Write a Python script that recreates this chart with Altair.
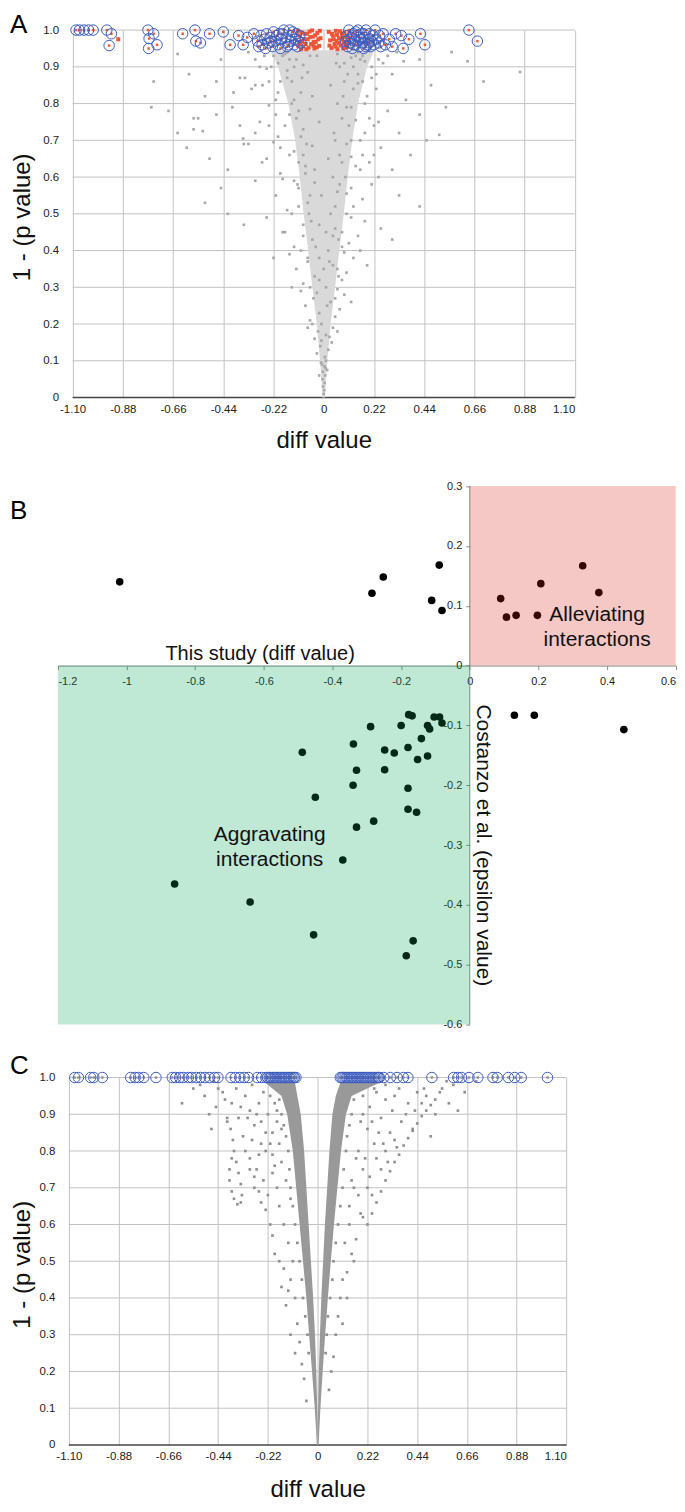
import altair as alt
import pandas as pd

FONT = "Liberation Sans, Arial, Helvetica, sans-serif"
GRID = "#c2c2c2"
BLUE = "#3d5cbf"
RED = "#ef5538"

# ---------------- Panel A ----------------
A_XTICKS = [-1.10, -0.88, -0.66, -0.44, -0.22, 0, 0.22, 0.44, 0.66, 0.88, 1.10]
A_YTICKS = [0, 0.1, 0.2, 0.3, 0.4, 0.5, 0.6, 0.7, 0.8, 0.9, 1.0]
A_GRID_Y = [0.1, 0.2, 0.3, 0.4, 0.5, 0.6, 0.7, 0.8, 0.9, 1.0]

A_CORE_Y = [0.0, 0.05, 0.1, 0.2, 0.3, 0.4, 0.5, 0.6, 0.7, 0.8, 0.9, 0.945]
A_CORE_LO = [-0.006, -0.01, -0.016, -0.03, -0.05, -0.068, -0.088, -0.105, -0.125, -0.155, -0.2, -0.23]
A_CORE_HI = [0.006, 0.01, 0.016, 0.03, 0.05, 0.068, 0.088, 0.105, 0.125, 0.15, 0.19, 0.22]

A_GRAY = [
    (0, 0.01), (0.002, 0.02), (-0.003, 0.03), (0.004, 0.04), (-0.005, 0.05), (0.006, 0.06), (-0.004, 0.07),
    (0.008, 0.08), (-0.008, 0.09), (0.01, 0.1), (-0.012, 0.095), (0.003, 0.085), (-0.02, 0.06), (0.015, 0.075),
    (-0.03, 0.12), (0.02, 0.13), (-0.015, 0.14), (0.035, 0.15), (-0.04, 0.16), (0.01, 0.17), (-0.025, 0.18),
    (0.04, 0.19), (-0.05, 0.2), (0.005, 0.11), (0.025, 0.165), (-0.01, 0.155), (0.06, 0.18), (-0.07, 0.19),
    (-0.06, 0.21), (0.05, 0.22), (-0.02, 0.23), (0.07, 0.24), (-0.08, 0.25), (0.03, 0.26), (-0.045, 0.27),
    (0.09, 0.28), (-0.1, 0.29), (0.01, 0.3), (0.06, 0.295), (-0.03, 0.285), (0.12, 0.26), (-0.14, 0.3),
    (-0.09, 0.31), (0.08, 0.32), (-0.04, 0.33), (0.1, 0.34), (-0.12, 0.35), (0.04, 0.36), (-0.07, 0.37),
    (0.13, 0.38), (-0.15, 0.39), (0.02, 0.4), (0.06, 0.35), (-0.02, 0.38), (0.19, 0.36), (-0.22, 0.38),
    (0.09, 0.395), (-0.1, 0.4), (-0.13, 0.41), (0.11, 0.42), (-0.05, 0.43), (0.15, 0.44), (-0.18, 0.45),
    (0.05, 0.46), (-0.09, 0.47), (0.18, 0.48), (-0.25, 0.49), (0.03, 0.5), (0.08, 0.45), (-0.02, 0.47),
    (0.25, 0.46), (-0.35, 0.47), (-0.42, 0.5), (0.12, 0.49), (-0.14, 0.5), (0.3, 0.43), (-0.16, 0.51),
    (0.13, 0.52), (-0.07, 0.53), (0.17, 0.54), (-0.21, 0.55), (0.06, 0.56), (-0.11, 0.57), (0.21, 0.58),
    (-0.3, 0.59), (0.04, 0.6), (0.1, 0.555), (-0.04, 0.585), (0.33, 0.55), (-0.45, 0.57), (-0.52, 0.53),
    (0.24, 0.6), (-0.18, 0.595), (0.42, 0.52), (-0.19, 0.61), (0.16, 0.62), (-0.08, 0.63), (0.2, 0.64),
    (-0.25, 0.65), (0.07, 0.66), (-0.13, 0.67), (0.25, 0.68), (-0.35, 0.69), (0.05, 0.7), (0.12, 0.655),
    (-0.05, 0.685), (0.38, 0.66), (-0.5, 0.65), (-0.6, 0.68), (0.45, 0.7), (-0.22, 0.695), (0.3, 0.62),
    (-0.42, 0.62), (-0.2, 0.71), (0.18, 0.72), (-0.09, 0.73), (0.22, 0.74), (-0.28, 0.75), (0.08, 0.76),
    (-0.15, 0.77), (0.28, 0.78), (-0.4, 0.79), (0.06, 0.8), (0.14, 0.755), (-0.06, 0.785), (0.42, 0.77),
    (-0.55, 0.76), (-0.68, 0.78), (0.506, 0.715), (-0.24, 0.795), (0.33, 0.72), (-0.47, 0.77), (0.535, 0.79),
    (-0.21, 0.81), (0.19, 0.82), (-0.1, 0.83), (0.23, 0.84), (-0.3, 0.85), (0.09, 0.86), (-0.16, 0.87),
    (0.3, 0.88), (-0.47, 0.86), (0.07, 0.9), (0.15, 0.855), (-0.07, 0.885), (0.47, 0.85), (-0.59, 0.88),
    (-0.745, 0.86), (0.7, 0.86), (-0.25, 0.895), (0.36, 0.81), (-0.52, 0.82), (0.86, 0.886), (-0.755, 0.79),
    (-0.2, 0.91), (0.18, 0.915), (-0.12, 0.92), (0.12, 0.925), (-0.06, 0.93), (0.06, 0.935), (-0.16, 0.94),
    (0.2, 0.945), (-0.09, 0.905), (0.09, 0.91), (-0.22, 0.93), (0.15, 0.94), (-0.3, 0.92), (0.28, 0.93),
    (-0.395, 0.83), (0.35, 0.915), (-0.45, 0.92), (0.42, 0.92), (-0.64, 0.935), (0.56, 0.94), (0.63, 0.915),
    (-0.367, 0.87), (-0.345, 0.87), (-0.316, 0.84), (-0.268, 0.85), (-0.64, 0.72), (-0.57, 0.73),
    (-0.53, 0.725), (-0.367, 0.74), (-0.353, 0.705), (-0.33, 0.69), (-0.3, 0.72), (-0.57, 0.76),
    (-0.17, 0.935), (-0.13, 0.9), (0.13, 0.9), (0.17, 0.93), (-0.19, 0.86), (0.21, 0.87), (-0.11, 0.78),
    (0.1, 0.79), (-0.24, 0.74), (0.24, 0.75), (-0.27, 0.64), (0.22, 0.66), (-0.17, 0.45), (0.16, 0.4),
    (-0.01, 0.2), (0.015, 0.25), (-0.02, 0.32), (0.025, 0.37), (-0.035, 0.41), (0.04, 0.44), (-0.055, 0.48),
    (0.05, 0.52), (-0.06, 0.55), (0.07, 0.58), (-0.08, 0.61), (0.08, 0.64), (-0.09, 0.66), (0.1, 0.69),
    (-0.1, 0.71), (0.11, 0.74), (-0.12, 0.76), (0.12, 0.79), (-0.13, 0.81), (0.13, 0.84), (-0.14, 0.86),
    (0.15, 0.88), (-0.16, 0.89), (0.16, 0.92), (-0.18, 0.93), (0.0, 0.35), (0.01, 0.45), (-0.01, 0.55),
    (0.02, 0.65), (-0.02, 0.75), (0.03, 0.85), (-0.03, 0.93), (-0.04, 0.62), (0.045, 0.72), (-0.05, 0.82),
    (0.055, 0.91), (-0.065, 0.5), (0.065, 0.43), (-0.075, 0.69), (0.085, 0.82), (-0.095, 0.87), (0.095, 0.6),
    (-0.11, 0.64), (0.105, 0.88), (-0.115, 0.58), (0.12, 0.7), (-0.14, 0.8), (0.14, 0.93), (-0.15, 0.92),
    (0.17, 0.86),
    (-0.23, 0.9), (-0.26, 0.93), (0.21, 0.9), (0.24, 0.92), (-0.2, 0.83), (0.18, 0.8), (-0.17, 0.74),
    (0.16, 0.7), (-0.15, 0.66), (0.14, 0.63), (-0.13, 0.59), (0.12, 0.57), (-0.11, 0.52), (0.1, 0.5),
    (-0.09, 0.44), (0.08, 0.41), (-0.07, 0.38), (0.065, 0.33), (-0.06, 0.3), (0.05, 0.27), (-0.21, 0.77),
    (0.2, 0.76), (-0.24, 0.86), (0.23, 0.88), (-0.28, 0.9), (0.26, 0.91), (-0.33, 0.94), (0.32, 0.94),
    (-0.19, 0.68), (0.17, 0.66),
]

A_RED = [
    (-0.112, 0.998), (-0.105, 0.985), (-0.098, 0.97), (-0.09, 0.955), (-0.083, 0.99), (-0.076, 0.948),
    (-0.07, 0.975), (-0.062, 0.996), (-0.055, 0.962), (-0.048, 0.982), (-0.041, 0.95), (-0.035, 0.968),
    (-0.028, 0.992), (-0.02, 0.957), (-0.014, 0.978), (-0.108, 0.962), (-0.094, 0.993), (-0.087, 0.976),
    (-0.079, 0.962), (-0.066, 0.952), (-0.059, 0.981), (-0.051, 0.999), (-0.044, 0.968), (-0.037, 0.986),
    (-0.03, 0.953), (-0.024, 0.975), (-0.017, 0.998), (-0.1, 0.948), (-0.073, 0.99), (-0.045, 0.958),
    (0.022, 0.995), (0.028, 0.972), (0.034, 0.951), (0.04, 0.985), (0.047, 0.962), (0.053, 0.998),
    (0.06, 0.948), (0.066, 0.978), (0.073, 0.958), (0.08, 0.99), (0.087, 0.966), (0.094, 0.952),
    (0.1, 0.982), (0.107, 0.97), (0.113, 0.996), (0.025, 0.958), (0.036, 0.99), (0.044, 0.975),
    (0.051, 0.955), (0.058, 0.987), (0.064, 0.965), (0.071, 0.997), (0.078, 0.975), (0.085, 0.95),
    (0.091, 0.993), (0.097, 0.962), (0.104, 0.955), (0.11, 0.978), (0.056, 0.97), (0.083, 0.98),
    (-0.9, 0.975),
]

A_CIRC = [
    (-1.085, 1.0), (-1.07, 1.0), (-1.05, 1.0), (-1.03, 1.0), (-1.01, 1.0), (-0.95, 1.0), (-0.93, 0.99),
    (-0.94, 0.958), (-0.77, 1.0), (-0.745, 0.99), (-0.765, 0.977), (-0.73, 0.96), (-0.767, 0.95),
    (-0.618, 0.99), (-0.564, 1.0), (-0.56, 0.97), (-0.54, 0.965), (-0.50, 0.99), (-0.44, 0.995),
    (-0.41, 0.96), (-0.373, 0.985), (-0.353, 0.96), (-0.335, 0.98), (-0.306, 0.99),
    (-0.29, 0.97), (-0.285, 0.955), (-0.275, 0.985), (-0.27, 0.96), (-0.26, 0.975), (-0.255, 0.95),
    (-0.25, 0.99), (-0.24, 0.965), (-0.235, 0.98), (-0.225, 0.955), (-0.22, 0.995), (-0.21, 0.97),
    (-0.205, 0.985), (-0.2, 0.96), (-0.19, 0.95), (-0.185, 0.975), (-0.18, 0.99), (-0.17, 0.965),
    (-0.165, 0.98), (-0.16, 0.955), (-0.15, 1.0), (-0.145, 0.97), (-0.14, 0.985), (-0.13, 0.96),
    (-0.125, 0.975), (-0.12, 0.99), (-0.115, 0.955), (-0.11, 0.97), (-0.105, 0.985), (-0.1, 0.965),
    (-0.175, 1.0), (-0.23, 0.97), (-0.195, 0.99), (-0.135, 0.995), (-0.155, 0.96),
    (0.095, 0.97), (0.1, 0.985), (0.105, 0.955), (0.11, 1.0), (0.115, 0.965), (0.12, 0.98),
    (0.125, 0.95), (0.13, 0.99), (0.135, 0.97), (0.14, 0.96), (0.145, 0.985), (0.15, 1.0),
    (0.155, 0.955), (0.16, 0.975), (0.165, 0.99), (0.17, 0.965), (0.175, 0.95), (0.18, 0.98),
    (0.185, 1.0), (0.19, 0.96), (0.195, 0.975), (0.2, 0.99), (0.205, 0.955), (0.21, 0.97),
    (0.215, 0.985), (0.22, 0.96), (0.225, 1.0), (0.23, 0.975), (0.24, 0.965), (0.245, 0.985),
    (0.25, 0.955), (0.13, 0.96), (0.155, 0.98), (0.175, 0.99), (0.11, 0.975), (0.2, 0.965),
    (0.14, 0.995), (0.185, 0.955), (0.26, 0.99), (0.27, 0.96), (0.3, 0.955),
    (0.287, 0.975), (0.315, 0.99), (0.34, 0.985), (0.348, 0.95), (0.373, 0.975), (0.424, 0.99),
    (0.443, 0.96), (0.636, 1.0), (0.673, 0.97),
]

# ---------------- Panel B ----------------
B_XTICKS = [-1.2, -1.0, -0.8, -0.6, -0.4, -0.2, 0, 0.2, 0.4, 0.6]
B_YTICKS = [0.3, 0.2, 0.1, 0, -0.1, -0.2, -0.3, -0.4, -0.5, -0.6]
B_YAXIS_LINE = dict(x=[0.0], y=[-0.6], y2=[0.3])
B_X = [-1.02, -0.252, -0.285, -0.089, -0.111, -0.081,
       0.090, 0.107, 0.135, 0.197, 0.207, 0.329, 0.376,
       0.130, 0.188, 0.449,
       -0.178, -0.168, -0.104, -0.088, -0.081, -0.289, -0.200, -0.123, -0.117, -0.141, -0.339, -0.488,
       -0.248, -0.220, -0.180, -0.123, -0.152, -0.248, -0.18, -0.155, -0.18, -0.33, -0.34, -0.45,
       -0.28, -0.33, -0.37, -0.86, -0.64, -0.455, -0.185, -0.165]
B_Y = [0.14, 0.148, 0.121, 0.168, 0.109, 0.092,
       0.112, 0.081, 0.084, 0.084, 0.137, 0.167, 0.122,
       -0.083, -0.083, -0.107,
       -0.082, -0.084, -0.086, -0.086, -0.096, -0.102, -0.100, -0.100, -0.106, -0.122, -0.131, -0.145,
       -0.141, -0.146, -0.137, -0.151, -0.157, -0.174, -0.205, -0.245, -0.24, -0.175, -0.2, -0.22,
       -0.26, -0.27, -0.325, -0.365, -0.395, -0.45, -0.485, -0.46]
B_PINK = dict(x=[0.0], x2=[0.6], y=[0.0], y2=[0.3])
B_GREEN = dict(x=[-1.2], x2=[0.0], y=[-0.6], y2=[0.0])
B_LABELS = ["Alleviating", "interactions", "Aggravating", "interactions"]
B_LABEL_X = [0.371, 0.371, -0.583, -0.583]
B_LABEL_Y = [0.085, 0.043, -0.283, -0.325]

# ---------------- Panel C ----------------
C_XTICKS = A_XTICKS
C_YTICKS = A_YTICKS
C_GRID_Y = A_GRID_Y
C_BAND_Y = [0.0, 0.05, 0.1, 0.2, 0.3, 0.4, 0.5, 0.6, 0.7, 0.8, 0.9, 0.95, 0.985]
C_LBAND_OUT = [-0.004, -0.008, -0.013, -0.025, -0.038, -0.05, -0.065, -0.08, -0.095, -0.11, -0.135, -0.16, -0.23]
C_LBAND_IN = [0.0, 0.0, -0.002, -0.006, -0.012, -0.02, -0.03, -0.04, -0.05, -0.06, -0.075, -0.09, -0.1]
C_RBAND_IN = [0.0, 0.0, 0.002, 0.005, 0.01, 0.016, 0.024, 0.032, 0.042, 0.052, 0.065, 0.08, 0.1]
C_RBAND_OUT = [0.004, 0.008, 0.012, 0.022, 0.033, 0.045, 0.058, 0.072, 0.087, 0.103, 0.125, 0.15, 0.27]

C_GRAY = [
    (-0.55, 0.97), (-0.5, 0.95), (-0.45, 0.92), (-0.42, 0.96), (-0.38, 0.93), (-0.35, 0.89), (-0.32, 0.95),
    (-0.3, 0.91), (-0.28, 0.87), (-0.26, 0.93), (-0.24, 0.96), (-0.22, 0.9), (-0.2, 0.85), (-0.19, 0.93),
    (-0.25, 0.82), (-0.33, 0.84), (-0.4, 0.88), (-0.47, 0.86), (-0.36, 0.97), (-0.29, 0.98), (-0.23, 0.8),
    (-0.18, 0.88), (-0.21, 0.95), (-0.6, 0.93),
    (-0.3, 0.78), (-0.27, 0.75), (-0.24, 0.72), (-0.22, 0.68), (-0.2, 0.74), (-0.18, 0.7), (-0.17, 0.65),
    (-0.16, 0.77), (-0.15, 0.6), (-0.14, 0.72), (-0.13, 0.55), (-0.21, 0.6), (-0.25, 0.66), (-0.19, 0.52),
    (-0.12, 0.67), (-0.28, 0.7),
    (-0.38, 0.78), (-0.39, 0.75), (-0.39, 0.72), (-0.38, 0.69), (-0.37, 0.67), (-0.355, 0.655), (-0.34, 0.66),
    (-0.335, 0.68), (-0.34, 0.71), (-0.35, 0.74), (-0.36, 0.77), (-0.37, 0.8), (-0.375, 0.83), (-0.385, 0.86),
    (-0.4, 0.89),
    (-0.12, 0.45), (-0.1, 0.4), (-0.15, 0.48), (-0.09, 0.33), (-0.11, 0.5), (-0.08, 0.28), (-0.07, 0.22),
    (-0.13, 0.42), (-0.06, 0.18), (-0.05, 0.12),
    (-0.44, 0.97), (-0.41, 0.94), (-0.34, 0.92), (-0.31, 0.89), (-0.27, 0.9), (-0.25, 0.88), (-0.23, 0.85),
    (-0.21, 0.82), (-0.2, 0.79), (-0.19, 0.76), (-0.17, 0.82), (-0.16, 0.86), (-0.18, 0.91), (-0.26, 0.79),
    (-0.29, 0.83), (-0.32, 0.8), (-0.3, 0.75), (-0.28, 0.73), (-0.26, 0.69), (-0.23, 0.64), (-0.2, 0.57),
    (-0.17, 0.5), (-0.14, 0.38), (-0.16, 0.43), (-0.12, 0.3), (-0.1, 0.25), (-0.46, 0.99), (-0.52, 0.98),
    (-0.48, 0.9),
    (-0.1, 0.6), (-0.11, 0.65), (-0.12, 0.7), (-0.125, 0.75), (-0.13, 0.8), (-0.14, 0.84), (-0.15, 0.87),
    (-0.16, 0.9), (-0.17, 0.94), (-0.09, 0.55), (-0.08, 0.5), (-0.07, 0.45), (-0.065, 0.4), (-0.055, 0.35),
    (-0.045, 0.3), (-0.04, 0.25),
    (0.2, 0.95), (0.23, 0.92), (0.26, 0.96), (0.28, 0.89), (0.3, 0.94), (0.33, 0.91), (0.36, 0.97),
    (0.4, 0.93), (0.44, 0.96), (0.48, 0.95), (0.52, 0.9), (0.55, 0.97), (0.6, 0.98), (0.65, 0.96),
    (0.7, 0.99), (0.22, 0.86), (0.25, 0.82), (0.19, 0.88), (0.32, 0.85), (0.42, 0.86), (0.5, 0.84),
    (0.58, 0.93), (0.62, 0.91),
    (0.22, 0.6), (0.24, 0.63), (0.26, 0.66), (0.28, 0.69), (0.3, 0.72), (0.32, 0.745), (0.34, 0.77),
    (0.36, 0.79), (0.38, 0.815), (0.4, 0.835), (0.42, 0.855), (0.44, 0.875), (0.46, 0.895), (0.48, 0.91),
    (0.5, 0.925), (0.52, 0.94),
    (0.15, 0.72), (0.18, 0.68), (0.2, 0.75), (0.14, 0.6), (0.17, 0.78), (0.12, 0.55), (0.22, 0.7),
    (0.16, 0.5), (0.11, 0.45), (0.1, 0.4), (0.13, 0.47), (0.09, 0.35), (0.08, 0.3), (0.07, 0.24),
    (0.06, 0.2), (0.05, 0.15), (0.26, 0.78), (0.29, 0.82), (0.19, 0.63),
    (0.2, 0.9), (0.24, 0.88), (0.27, 0.85), (0.3, 0.8), (0.34, 0.83), (0.37, 0.88), (0.39, 0.9),
    (0.43, 0.91), (0.46, 0.93), (0.34, 0.95), (0.3, 0.98), (0.25, 0.97), (0.18, 0.8), (0.21, 0.78),
    (0.23, 0.73), (0.24, 0.68), (0.2, 0.62), (0.17, 0.56), (0.15, 0.52), (0.13, 0.4), (0.11, 0.33),
    (0.14, 0.65), (0.16, 0.7), (0.28, 0.75), (0.31, 0.77), (0.35, 0.81), (0.54, 0.96), (0.57, 0.99),
    (0.47, 0.97),
    (0.09, 0.6), (0.1, 0.65), (0.11, 0.7), (0.115, 0.75), (0.125, 0.8), (0.13, 0.84), (0.14, 0.87),
    (0.15, 0.9), (0.16, 0.94), (0.08, 0.55), (0.07, 0.5), (0.065, 0.45), (0.055, 0.4), (0.045, 0.35),
    (0.04, 0.3), (0.035, 0.25),
]

C_CIRC_X = [-1.074, -1.058, -1.004, -0.99, -0.952, -0.827, -0.807, -0.792, -0.769, -0.715, -0.643, -0.628,
            -0.61, -0.595, -0.572, -0.557, -0.537, -0.518, -0.499, -0.479, -0.456, -0.441, -0.383, -0.364,
            -0.344, -0.325, -0.306, -0.267, -0.248, -0.229, -0.221, -0.214, -0.208, -0.2, -0.193, -0.187,
            -0.18, -0.172, -0.166, -0.159, -0.151, -0.145, -0.138, -0.13, -0.124, -0.117, -0.109, -0.103,
            -0.096, 0.1, 0.107, 0.113, 0.121, 0.128, 0.134, 0.141, 0.149, 0.155, 0.162, 0.17, 0.176, 0.183,
            0.19, 0.197, 0.204, 0.211, 0.218, 0.225, 0.232, 0.24, 0.247, 0.254, 0.262, 0.268, 0.273, 0.292,
            0.321, 0.351, 0.379, 0.399, 0.505, 0.601, 0.62, 0.636, 0.669, 0.708, 0.775, 0.794, 0.843, 0.871,
            0.9, 1.016]
C_CIRC_Y = 1.0

# ---------------- layout constants (pixels) ----------------
LEFT = 58.0                       # common left edge of the three plot groups (panel B's x = -1.2)
A_LEFT, A_RIGHT = 72.7, 575.7     # panel A plot frame
C_LEFT, C_RIGHT = 69.0, 567.3     # panel C plot frame
AH = CH = 368.0
B_PX_PER_UNIT_Y = 539.3 / 0.9
B_EXTRA_TOP = 35.7                # empty band above B's 0.3 so that rows can share one spacing
B_YTOP = 0.3 + B_EXTRA_TOP / B_PX_PER_UNIT_Y
BW, BH = 618.7, 539.3 + B_EXTRA_TOP
ROW_GAP = 53.0
LETTER_X = 10.0                   # page x of the panel letters
YTITLE_X = 23.0                   # page x of the rotated y titles

# ---------------- helpers ----------------
def pts(pairs):
    return pd.DataFrame(pairs, columns=["x", "y"])

SIGNED2 = "datum.value == 0 ? '0' : (datum.value < 0 ? '-' : '') + format(abs(datum.value), '.2f')"
ONEDEC = "datum.value == 0 ? '0' : format(datum.value, '.1f')"
SIGNEDG = "(datum.value < 0 ? '-' : '') + format(abs(datum.value), '~g')"


def anchor(x, y):
    # invisible 1px rule that only pins the drawing's outer edge
    return alt.Chart(pd.DataFrame({"v": [0]})).mark_rule(opacity=0).encode(
        x=alt.value(x), x2=alt.value(x + 1), y=alt.value(y))


def volcano_panel(ch, left, right, xticks, yticks, grid_y, xtitle_y, letter_y, layers_fn, extra=()):
    shift = left - LEFT
    w = right - LEFT
    ppu = (right - left) / 2.2
    xmin = -1.1 - shift / ppu
    ax = alt.X("x:Q", scale=alt.Scale(domain=[xmin, 1.1], nice=False, zero=False),
               axis=alt.Axis(values=xticks, labelExpr=SIGNED2, grid=True, gridColor=GRID, gridWidth=1,
                             domain=False, ticks=False,
                             labelFont=FONT, labelFontSize=11.5, labelColor="#222222", labelPadding=6,
                             title="diff value", titleFont=FONT, titleFontSize=24, titleFontWeight="normal",
                             titleColor="#111111", titleX=(left + right) / 2 - LEFT, titleY=xtitle_y,
                             titleAlign="center", titleBaseline="middle"))
    ay = alt.Y("y:Q", scale=alt.Scale(domain=[0, 1], nice=False, zero=False),
               axis=alt.Axis(values=yticks, labelExpr=ONEDEC, grid=False, offset=-shift,
                             domain=False, ticks=False, labelFont=FONT, labelFontSize=11.5,
                             labelColor="#222222", labelPadding=14,
                             title="1 - (p value)", titleFont=FONT, titleFontSize=24, titleFontWeight="normal",
                             titleColor="#111111", titleX=YTITLE_X - left, titleY=187, titleAngle=-90,
                             titleAlign="center", titleBaseline="middle"))
    hgrid = alt.Chart(pd.DataFrame({"y": grid_y, "x": [-1.1] * len(grid_y), "x2": [1.1] * len(grid_y)})).mark_rule(
        color=GRID, strokeWidth=1).encode(x=ax, x2="x2:Q", y=ay)
    base = alt.Chart(pd.DataFrame({"y": [0.0], "x": [-1.1], "x2": [1.1]})).mark_rule(
        color="#444444", strokeWidth=1.6).encode(x=ax, x2="x2:Q", y=ay)
    let = alt.Chart(pd.DataFrame({"t": [ch]})).mark_text(
        align="left", baseline="top", fontSize=26, font=FONT, color="black"
    ).encode(x=alt.value(LETTER_X - LEFT), y=alt.value(letter_y), text="t:N")
    return alt.layer(hgrid, base, *layers_fn(ax, ay), let, *extra).properties(width=w, height=AH)


def a_layers(ax, ay):
    core = alt.Chart(pd.DataFrame({"y": A_CORE_Y, "x": A_CORE_LO, "x2": A_CORE_HI})).mark_area(
        orient="horizontal", color="#d9d9d9").encode(x=ax, x2="x2:Q", y=ay)
    gray = alt.Chart(pts(A_GRAY)).mark_square(size=7, color="#a8a8a8", opacity=1).encode(x=ax, y=ay)
    red = alt.Chart(pts(A_RED)).mark_square(size=16, color=RED, opacity=1).encode(x=ax, y=ay)
    dot = alt.Chart(pts(A_CIRC)).mark_square(size=6, color=RED, opacity=1).encode(x=ax, y=ay)
    circ = alt.Chart(pts(A_CIRC)).mark_point(shape="circle", filled=False, size=110, strokeWidth=1,
                                             color=BLUE, opacity=1).encode(x=ax, y=ay)
    return [core, gray, red, dot, circ]


def c_layers(ax, ay):
    lband = alt.Chart(pd.DataFrame({"y": C_BAND_Y, "x": C_LBAND_OUT, "x2": C_LBAND_IN})).mark_area(
        orient="horizontal", color="#999999").encode(x=ax, x2="x2:Q", y=ay)
    rband = alt.Chart(pd.DataFrame({"y": C_BAND_Y, "x": C_RBAND_IN, "x2": C_RBAND_OUT})).mark_area(
        orient="horizontal", color="#999999").encode(x=ax, x2="x2:Q", y=ay)
    gray = alt.Chart(pts(C_GRAY)).mark_square(size=7, color="#8f8f8f", opacity=1).encode(x=ax, y=ay)
    cdf = pd.DataFrame({"x": C_CIRC_X, "y": C_CIRC_Y})
    dot = alt.Chart(cdf).mark_square(size=6, color="#8f8f8f", opacity=1).encode(x=ax, y=ay)
    circ = alt.Chart(cdf).mark_point(shape="circle", filled=False, size=110, strokeWidth=1,
                                     color=BLUE, opacity=1).encode(x=ax, y=ay)
    return [lband, rband, gray, dot, circ]


panelA = volcano_panel("A", A_LEFT, A_RIGHT, A_XTICKS, A_YTICKS, A_GRID_Y, 43, -18.5, a_layers,
                       extra=(anchor(200, -21),))
panelC = volcano_panel("C", C_LEFT, C_RIGHT, C_XTICKS, C_YTICKS, C_GRID_Y, 45, -24.2, c_layers)

# ---------------- Panel B chart ----------------
x0_px = (0 - (-1.2)) / 1.8 * BW
y0_from_bottom = 0.6 * B_PX_PER_UNIT_Y
bx = alt.X("x:Q", scale=alt.Scale(domain=[-1.2, 0.6], nice=False, zero=False),
           axis=alt.Axis(values=B_XTICKS, labelExpr=SIGNEDG, orient="bottom", offset=-y0_from_bottom,
                         grid=False, domainColor="#8a8a8a", tickColor="#8a8a8a", tickSize=4, labelFont=FONT,
                         labelFontSize=11, labelColor="#222222", labelPadding=6,
                         title="This study (diff value)", titleFont=FONT, titleFontSize=20,
                         titleFontWeight="normal", titleColor="#111111", titleX=202, titleY=-12,
                         titleAlign="center", titleBaseline="middle"))
by = alt.Y("y:Q", scale=alt.Scale(domain=[-0.6, B_YTOP], nice=False, zero=False),
           axis=alt.Axis(values=B_YTICKS, labelExpr=SIGNEDG, orient="left", offset=-x0_px, grid=False,
                         domain=False, tickColor="#8a8a8a", tickSize=4, labelFont=FONT,
                         labelFontSize=11, labelColor="#222222", labelPadding=4,
                         title="Costanzo et al. (epsilon value)", titleFont=FONT, titleFontSize=21,
                         titleFontWeight="normal", titleColor="#111111", titleX=13,
                         titleY=845 - (485.7 - B_EXTRA_TOP),
                         titleAngle=90, titleAlign="center", titleBaseline="middle"))
b_axis = alt.Chart(pd.DataFrame(B_YAXIS_LINE)).mark_rule(color="#8a8a8a", strokeWidth=1).encode(
    x=bx, y=by, y2="y2:Q")
b_pts = alt.Chart(pd.DataFrame({"x": B_X, "y": B_Y})).mark_circle(size=58, color="black", opacity=1).encode(x=bx, y=by)
b_pink = alt.Chart(pd.DataFrame(B_PINK)).mark_rect(color="#d82018", opacity=0.25).encode(
    x=bx, x2="x2:Q", y=by, y2="y2:Q")
b_green = alt.Chart(pd.DataFrame(B_GREEN)).mark_rect(color="#00a458", opacity=0.25).encode(
    x=bx, x2="x2:Q", y=by, y2="y2:Q")
b_text = alt.Chart(pd.DataFrame({"x": B_LABEL_X, "y": B_LABEL_Y, "t": B_LABELS})).mark_text(
    fontSize=21, font=FONT, color="#111111", align="center", baseline="middle").encode(x=bx, y=by, text="t:N")
b_letter = alt.Chart(pd.DataFrame({"t": ["B"]})).mark_text(
    align="left", baseline="top", fontSize=26, font=FONT, color="black"
).encode(x=alt.value(LETTER_X - LEFT), y=alt.value(500 - 1.9 - (485.7 - B_EXTRA_TOP)), text="t:N")
panelB = alt.layer(b_axis, b_pts, b_pink, b_green, b_text, b_letter,
                   anchor(8 - LEFT, 100)).properties(width=BW, height=BH)

chart = alt.vconcat(panelA, panelB, panelC, spacing=ROW_GAP, bounds="flush").properties(
    padding=0, background="white"
).configure_view(stroke=None)

chart.save("out.html", embed_options={"renderer": "svg", "actions": False})
